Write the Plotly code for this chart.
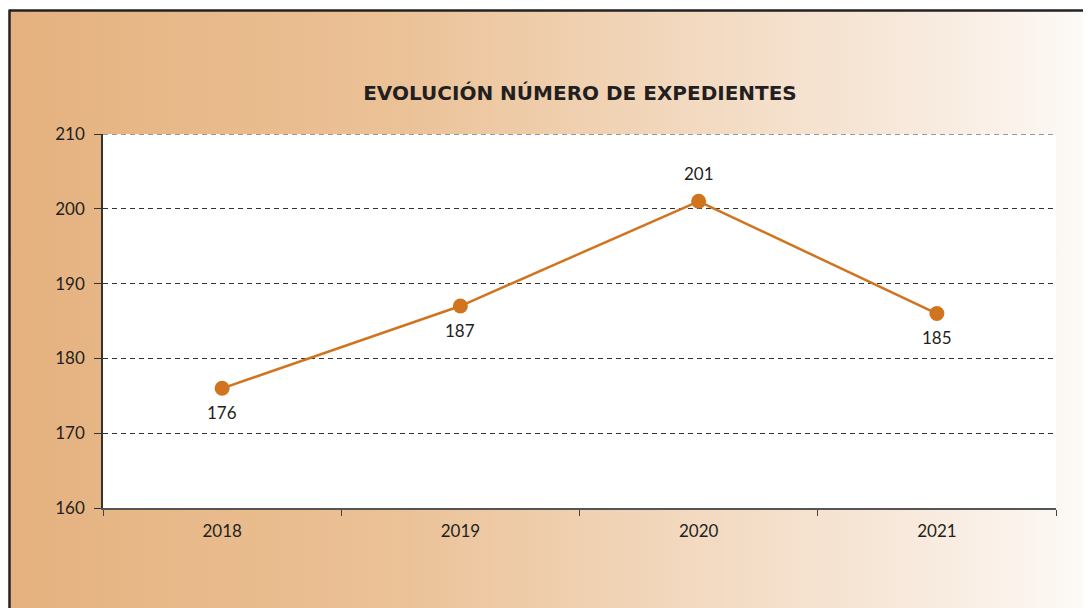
import plotly.graph_objects as go

years = ["2018", "2019", "2020", "2021"]
expedientes = [176, 187, 201, 186]
label_texts = ["176", "187", "201", "185"]
label_above = [False, False, True, False]
y_ticks = [160, 170, 180, 190, 200, 210]

W, H = 1091, 608
L, R, T, B = 95, 43, 126, 108
pw, ph = W - L - R, H - T - B

def px_x(x):
    return (x - L) / pw

def px_y(y):
    return (H - B - y) / ph

line_color = "#D0741F"
text_color = "#231F20"
grid_color = "#333333"
tick_font = "Lato, sans-serif"
title_font = "'DejaVu Sans', sans-serif"

svg = (
    "<svg xmlns='http://www.w3.org/2000/svg' width='1100' height='610' preserveAspectRatio='none'>"
    "<defs><linearGradient id='g' x1='0' y1='0' x2='1' y2='0'>"
    "<stop offset='0' stop-color='#E5B27F'/>"
    "<stop offset='0.35' stop-color='#EBC196'/>"
    "<stop offset='0.65' stop-color='#F3DBC3'/>"
    "<stop offset='0.85' stop-color='#F8EBDF'/>"
    "<stop offset='1' stop-color='#FDFBF9'/>"
    "</linearGradient></defs>"
    "<rect width='1100' height='610' fill='url(#g)'/></svg>"
)
src = "data:image/svg+xml;charset=utf-8," + (
    svg.replace("%", "%25").replace("#", "%23").replace("<", "%3C").replace(">", "%3E")
       .replace(" ", "%20").replace("'", "%27")
)

fig = go.Figure()
fig.add_trace(go.Scatter(
    x=years, y=expedientes,
    mode="lines+markers",
    line=dict(color=line_color, width=2.5),
    marker=dict(color=line_color, size=15),
    cliponaxis=False,
    showlegend=False,
    hoverinfo="x+y",
))

annotations = [
    dict(x=i, y=yv, xref="x", yref="y", text=t, showarrow=False,
         yshift=(28 if up else -24), yanchor="middle", xanchor="center",
         font=dict(family=tick_font, size=17, color=text_color))
    for i, (yv, t, up) in enumerate(zip(expedientes, label_texts, label_above))
]

fig.update_layout(
    width=W, height=H,
    margin=dict(l=L, r=R, t=T, b=B, autoexpand=False),
    paper_bgcolor="white",
    plot_bgcolor="white",
    title=dict(
        text="<b>EVOLUCIÓN NÚMERO DE EXPEDIENTES</b>",
        x=572 / W, xanchor="center", xref="container",
        y=1 - 85 / H, yanchor="middle", yref="container",
        font=dict(family=title_font, size=20, color=text_color),
    ),
    xaxis=dict(
        type="category", range=[-0.5, 3.5],
        tickson="boundaries", ticks="outside", ticklen=6, tickwidth=1.2, tickcolor="#444",
        showline=True, linecolor="#555", linewidth=2,
        showgrid=False, zeroline=False,
        tickfont=dict(family=tick_font, size=17, color=text_color),
        ticklabelstandoff=7,
    ),
    yaxis=dict(
        range=[160, 210], tickvals=y_ticks,
        ticks="outside", ticklen=7, tickwidth=1.2, tickcolor="#333",
        showline=True, linecolor="#333", linewidth=1.5,
        showgrid=True, gridcolor=grid_color, gridwidth=1, griddash="5px,4px",
        zeroline=False,
        tickfont=dict(family=tick_font, size=17, color=text_color),
        ticklabelstandoff=6,
    ),
    annotations=annotations,
    images=[dict(
        source=src, xref="paper", yref="paper",
        x=px_x(2), y=px_y(3), sizex=px_x(W) - px_x(2), sizey=px_y(3) - px_y(H),
        xanchor="left", yanchor="top", sizing="stretch", layer="below",
    )],
    shapes=[
        dict(type="rect", xref="paper", yref="paper", x0=0, x1=1, y0=0, y1=1,
             fillcolor="white", line=dict(width=0), layer="below"),
        dict(type="line", xref="paper", yref="y", x0=0, x1=1, y0=y_ticks[-1], y1=y_ticks[-1],
             line=dict(color=grid_color, width=1, dash="5px,4px"), layer="above"),
        dict(type="line", xref="paper", yref="paper", x0=px_x(1.5), x1=px_x(W), y0=px_y(2.5), y1=px_y(2.5),
             line=dict(color="#222", width=2.5), layer="above"),
        dict(type="line", xref="paper", yref="paper", x0=px_x(1.5), x1=px_x(1.5), y0=px_y(1.5), y1=px_y(H),
             line=dict(color="#222", width=2.5), layer="above"),
    ],
)

fig.write_html("out.html")
